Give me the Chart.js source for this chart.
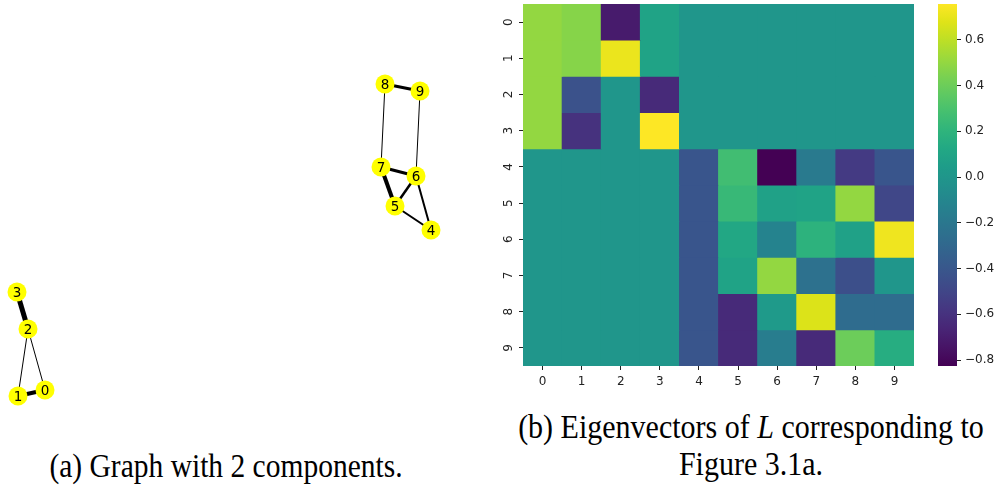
<!DOCTYPE html>
<html>
<head>
<meta charset="utf-8">
<script src="https://cdn.jsdelivr.net/npm/chart.js@4"></script>
<style>
  body { margin:0; background:#fff; width:1003px; height:487px; position:relative; overflow:hidden; }
  .box { position:absolute; }
  .cap { position:absolute; font-family:"Liberation Serif", serif; font-size:30px; line-height:30px; color:#000;
         text-align:center; white-space:nowrap; transform:scaleY(1.12); transform-origin:50% 25px; }
</style>
</head>
<body>
<div class="box" style="left:0;top:0;width:480px;height:420px"><canvas id="graph"></canvas></div>
<div class="box" style="left:490px;top:0;width:440px;height:400px"><canvas id="heat"></canvas></div>
<div class="box" style="left:930px;top:0;width:73px;height:400px"><canvas id="cbar"></canvas></div>
<div class="cap" style="left:26px;top:452px;width:400px;font-size:29.5px">(a) Graph with 2 components.</div>
<div class="cap" style="left:501px;top:413px;width:500px">(b) Eigenvectors of <i>L</i> corresponding to</div>
<div class="cap" style="left:601px;top:450px;width:300px">Figure 3.1a.</div>
<script>
// graph layout (node positions) and weighted edges
const nodeIds = ['0','1','2','3','4','5','6','7','8','9'];
const posX = [45, 18, 28, 17, 431, 395, 416, 381, 385, 420];
const posY = [390, 396, 329, 292, 230, 206, 176, 167, 84, 91];
const edgeFrom = [3, 2, 2, 1, 8, 8, 9, 7, 7, 6, 6, 5];
const edgeTo   = [2, 1, 0, 0, 9, 7, 6, 6, 5, 5, 4, 4];
const edgeW    = [5, 1, 1, 4, 3, 1, 1, 3, 4, 2.5, 2, 2];

// heatmap: rows = nodes, cols = eigenvectors
const rowLabels = ['0','1','2','3','4','5','6','7','8','9'];
const colLabels = ['0','1','2','3','4','5','6','7','8','9'];
const eig = [
  [0.50,  0.47, -0.71,  0.09, 0, 0, 0, 0, 0, 0],
  [0.50,  0.47,  0.71,  0.09, 0, 0, 0, 0, 0, 0],
  [0.50, -0.43,  0,    -0.64, 0, 0, 0, 0, 0, 0],
  [0.50, -0.60,  0,     0.757, 0, 0, 0, 0, 0, 0],
  [0, 0, 0, 0, -0.41,  0.27, -0.826, -0.18, -0.56, -0.41],
  [0, 0, 0, 0, -0.41,  0.235, 0.076,  0.09,  0.50, -0.49],
  [0, 0, 0, 0, -0.41,  0.12, -0.12,   0.19,  0.076, 0.72],
  [0, 0, 0, 0, -0.41,  0.09,  0.50,  -0.24, -0.45,  0.0],
  [0, 0, 0, 0, -0.41, -0.64,  0.03,   0.67, -0.27, -0.27],
  [0, 0, 0, 0, -0.41, -0.64, -0.16,  -0.64,  0.40,  0.155]
];
const vmin = -0.826, vmax = 0.757;
const cbarTicks = [-0.8, -0.6, -0.4, -0.2, 0, 0.2, 0.4, 0.6];

const viridisStops = ['#440154','#471365','#482475','#463480','#414487','#3b528b','#355f8d','#2f6c8e','#2a788e','#25848e',
  '#21918c','#1e9c89','#22a884','#2fb47c','#44bf70','#5ec962','#7ad151','#9bd93c','#bddf26','#dfe318','#fde725'];

function hexRgb(h) { return [1,3,5].map(i => parseInt(h.substr(i,2),16)); }
function viridis(v) {
  let t = (v - vmin) / (vmax - vmin);
  t = Math.max(0, Math.min(1, t));
  const n = viridisStops.length - 1;
  const i = Math.min(n - 1, Math.floor(t * n));
  const f = t * n - i;
  const a = hexRgb(viridisStops[i]), b = hexRgb(viridisStops[i+1]);
  const c = a.map((x,k) => Math.round(x + (b[k]-x)*f));
  return `rgb(${c[0]},${c[1]},${c[2]})`;
}
const fmt = v => { const s = Math.abs(v).toFixed(1); return v < -1e-9 ? '\u2212' + s : s; };
const tickFont = { family: 'DejaVu Sans', size: 12 };
const tickColor = '#222';
const noPad = s => { s.paddingTop = 0; s.paddingBottom = 0; s.paddingLeft = 0; s.paddingRight = 0; };

// ---- graph (a)
const edgeSets = edgeFrom.map((f, i) => ({
  type: 'line',
  data: [{x: posX[f], y: posY[f]}, {x: posX[edgeTo[i]], y: posY[edgeTo[i]]}],
  borderColor: '#000', borderWidth: edgeW[i], pointRadius: 0, fill: false, order: 1
}));
const nodeLabels = {
  id: 'nodeLabels',
  afterDatasetsDraw(chart) {
    const meta = chart.getDatasetMeta(0);
    const ctx = chart.ctx;
    ctx.save();
    ctx.font = '13.5px "DejaVu Sans"';
    ctx.fillStyle = '#000';
    ctx.textAlign = 'center';
    ctx.textBaseline = 'middle';
    meta.data.forEach((pt, i) => ctx.fillText(nodeIds[i], pt.x, pt.y + 1));
    ctx.restore();
  }
};
new Chart(document.getElementById('graph'), {
  type: 'scatter',
  data: { datasets: [
    { data: nodeIds.map((_, i) => ({x: posX[i], y: posY[i]})), backgroundColor: '#ffff00', borderWidth: 0, pointRadius: 9.5, order: 0 },
    ...edgeSets
  ]},
  options: {
    responsive: true, maintainAspectRatio: false, animation: false,
    layout: { padding: 0, autoPadding: false },
    plugins: { legend: { display: false }, tooltip: { enabled: false } },
    scales: {
      x: { type: 'linear', min: 0, max: 480, display: false },
      y: { type: 'linear', min: 0, max: 420, reverse: true, display: false }
    }
  },
  plugins: [nodeLabels]
});

// ---- heatmap (b)
new Chart(document.getElementById('heat'), {
  type: 'bar',
  data: {
    labels: colLabels,
    datasets: rowLabels.map((r, i) => ({
      label: r,
      data: colLabels.map(() => 1),
      backgroundColor: eig[i].map(viridis),
      borderWidth: 0, barPercentage: 1, categoryPercentage: 1, inflateAmount: 0.4
    }))
  },
  options: {
    responsive: true, maintainAspectRatio: false, animation: false,
    layout: { padding: { top: 4, right: 16, left: 0, bottom: 0 }, autoPadding: false },
    plugins: { legend: { display: false }, tooltip: { enabled: false } },
    scales: {
      x: {
        stacked: true,
        grid: { offset: false, drawOnChartArea: false, tickLength: 4, color: tickColor },
        border: { display: false },
        ticks: { font: tickFont, color: tickColor, padding: 5, maxRotation: 0 },
        afterFit: s => { s.height = 34; noPad(s); }
      },
      y: {
        type: 'linear', stacked: true, min: 0, max: 10, reverse: true,
        afterBuildTicks: s => { s.ticks = rowLabels.map((r, i) => ({ value: i + 0.5 })); },
        grid: { drawOnChartArea: false, tickLength: 4, color: tickColor },
        border: { display: false },
        ticks: { font: tickFont, color: tickColor, padding: 6, minRotation: 90, maxRotation: 90, crossAlign: 'center',
                 callback: (v, i) => rowLabels[i] },
        afterFit: s => { s.width = 33; noPad(s); }
      }
    }
  }
});

// ---- colorbar
new Chart(document.getElementById('cbar'), {
  type: 'bar',
  data: {
    labels: ['cb'],
    datasets: [{
      data: [[vmin, vmax]],
      backgroundColor: ctx => {
        const area = ctx.chart.chartArea;
        if (!area) return viridisStops[10];
        const g = ctx.chart.ctx.createLinearGradient(0, area.bottom, 0, area.top);
        viridisStops.forEach((c, i) => g.addColorStop(i / (viridisStops.length - 1), c));
        return g;
      },
      borderWidth: 0, barPercentage: 1, categoryPercentage: 1
    }]
  },
  options: {
    responsive: true, maintainAspectRatio: false, animation: false,
    layout: { padding: { top: 4, left: 8, right: 0, bottom: 34 }, autoPadding: false },
    plugins: { legend: { display: false }, tooltip: { enabled: false } },
    scales: {
      x: { display: false },
      y: {
        position: 'right', min: vmin, max: vmax,
        afterBuildTicks: s => { s.ticks = cbarTicks.map(v => ({ value: v })); },
        grid: { drawOnChartArea: false, tickLength: 4, color: tickColor },
        border: { display: false },
        ticks: { font: tickFont, color: tickColor, padding: 4, callback: v => fmt(v) },
        afterFit: s => { s.width = 46; noPad(s); }
      }
    }
  }
});
</script>
</body>
</html>
